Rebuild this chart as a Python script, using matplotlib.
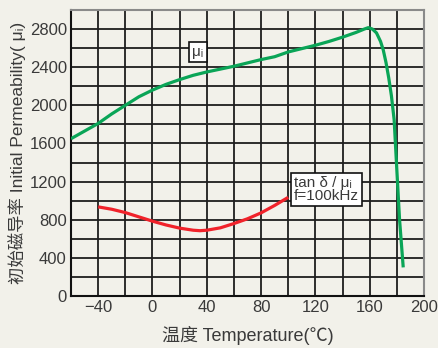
import numpy as np
import matplotlib.pyplot as plt

plt.rcParams['font.family'] = ['Liberation Sans', 'Noto Sans CJK SC', 'DejaVu Sans']

# permeability (green)
mu_temp = [-60, -50, -40, -30, -20, -10, 0, 10, 20, 30, 40, 50, 60, 70, 80, 90,
           100, 110, 120, 130, 140, 150, 156, 159, 162, 165, 168, 170, 172, 174,
           176, 178, 180, 182, 184.7]
mu_val = [1650, 1730, 1810, 1910, 2000, 2090, 2160, 2220, 2270, 2315, 2350, 2380,
          2410, 2445, 2480, 2510, 2560, 2595, 2630, 2670, 2715, 2765, 2800, 2815,
          2800, 2760, 2670, 2580, 2450, 2290, 2100, 1850, 1320, 800, 300]

# tan d / mu (red)
td_temp = [-40, -30, -20, -10, 0, 10, 20, 30, 35, 40, 50, 60, 70, 80, 90, 100]
td_val = [935, 910, 875, 830, 785, 745, 712, 690, 685, 690, 715, 760, 810, 872, 950, 1035]

xticks = [-40, 0, 40, 80, 120, 160, 200]
yticks = [0, 400, 800, 1200, 1600, 2000, 2400, 2800]

bg = '#f2f1ea'
txt = '#3a3a3a'

fig = plt.figure(figsize=(4.38, 3.48), dpi=100, facecolor=bg)
ax = fig.add_axes([71 / 438, 1 - 296 / 348, (424 - 71) / 438, (296 - 10) / 348])
ax.set_facecolor(bg)

ax.set_xlim(-60, 200)
ax.set_ylim(0, 3000)
for v in np.arange(-40, 200, 20):
    ax.axvline(v, color='#1e1e1e', linewidth=1.3, zorder=1)
for v in np.arange(200, 3000, 200):
    ax.axhline(v, color='#1e1e1e', linewidth=1.3, zorder=1)
ax.set_xticks(xticks)
ax.set_yticks(yticks)
ax.set_xticklabels(['\u221240' if t == -40 else str(t) for t in xticks])
ax.tick_params(length=0, labelsize=12, labelcolor=txt, pad=3)

for s in ['top', 'right']:
    ax.spines[s].set_color('#8a8a8a')
    ax.spines[s].set_linewidth(1.5)
for s in ['left', 'bottom']:
    ax.spines[s].set_color('#111111')
    ax.spines[s].set_linewidth(1.5)

ax.plot(mu_temp, mu_val, color='#0aa557', linewidth=2.3, solid_capstyle='butt', zorder=3)
ax.plot(td_temp, td_val, color='#f0222a', linewidth=2.3, solid_capstyle='butt', zorder=3)

box = dict(boxstyle='square,pad=0.2', facecolor='white', edgecolor='#111111', linewidth=1.2)
ax.text(33.5, 2560, 'μ\u1d62', fontsize=11, color=txt,
        ha='center', va='center', bbox=box, zorder=4)
ax.text(104, 1120, 'tan δ / μ\u1d62\nf=100kHz', fontsize=11, color=txt,
        ha='left', va='center', linespacing=0.9, bbox=box, zorder=4)

ax.set_xlabel('温度 Temperature(℃)', fontsize=13, color=txt, labelpad=8)
ax.set_ylabel('初始磁导率 Initial Permeability( μ\u1d62)', fontsize=12.5, color=txt, labelpad=3)

fig.savefig('out.png', dpi=100, facecolor=bg)
